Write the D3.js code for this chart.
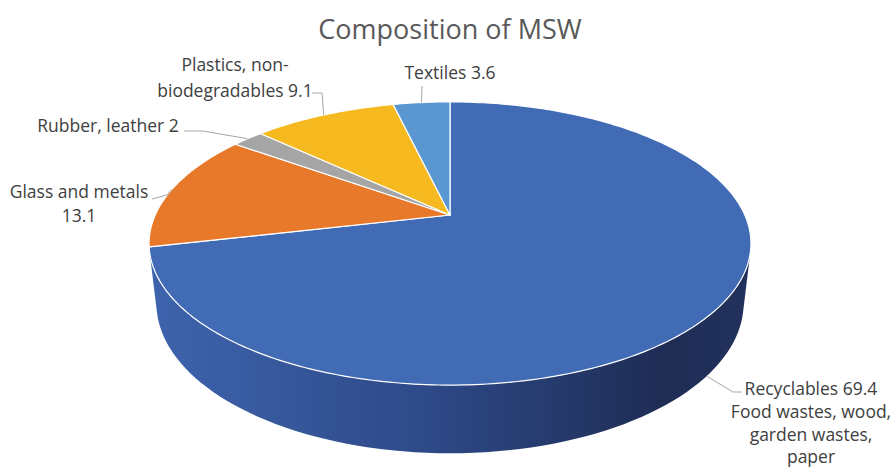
<!DOCTYPE html>
<html>
<head>
<meta charset="utf-8">
<script src="https://cdn.jsdelivr.net/npm/d3@7"></script>
<style>
  body { margin: 0; background: #fff; }
  text { font-family: "Open Sans", "Noto Sans", sans-serif; }
</style>
</head>
<body>
<div id="wrapper"></div>
<script>
// data
const categories = ["Recyclables", "Glass and metals", "Rubber, leather", "Plastics, non-biodegradables", "Textiles"]
const values = [69.4, 13.1, 2, 9.1, 3.6]
const labelLines = [
    ["Recyclables 69.4", "Food wastes, wood,", "garden wastes,", "paper"],
    ["Glass and metals", "13.1"],
    ["Rubber, leather 2"],
    ["Plastics, non-", "biodegradables 9.1"],
    ["Textiles 3.6"]
]
const colors = ["#416bb5", "#e8792b", "#a5a5a5", "#f6b920", "#5a96cf"]

const width = 893
const height = 469

// perspective camera for the disk
const cam = { cx: 450, cy: 215, f: 1300, D: 4.41, tilt: 0.479, h: 0.23 }
const sA = Math.sin(cam.tilt), cA = Math.cos(cam.tilt)

// angle a (d3.pie convention, clockwise from 12 o'clock), radius r, y height
const project = (a, r, y) => {
    const x = r * Math.sin(a)
    const z = r * Math.cos(a)
    const Y = y * cA + z * sA
    const Z = cam.D + z * cA - y * sA
    return [cam.cx + cam.f * x / Z, cam.cy - cam.f * Y / Z]
}

const svg = d3.select('#wrapper')
    .append('svg')
    .attr('width', width)
    .attr('height', height)

const defs = svg.append('defs')
const grad = defs.append('linearGradient')
    .attr('id', 'sideGrad')
    .attr('gradientUnits', 'userSpaceOnUse')
    .attr('x1', 150).attr('x2', 752).attr('y1', 0).attr('y2', 0)
grad.append('stop').attr('offset', '0%').attr('stop-color', '#3e64ae')
grad.append('stop').attr('offset', '45%').attr('stop-color', '#2e4a89')
grad.append('stop').attr('offset', '85%').attr('stop-color', '#1f2d55')
grad.append('stop').attr('offset', '100%').attr('stop-color', '#22325c')

const pie = d3.pie().sort(null).value(d => d)
const arcs = pie(values)

const line = d3.line()

// side wall: outer surface faces camera where cos(a) < -1/(D*cos(tilt))
const limit = Math.acos(-1 / (cam.D * cA))
const visLo = limit, visHi = 2 * Math.PI - limit

const sides = svg.append('g')
arcs.forEach((d, i) => {
    const a0 = Math.max(d.startAngle, visLo)
    const a1 = Math.min(d.endAngle, visHi)
    if (a1 <= a0) return
    const n = 80
    const angles = d3.range(n + 1).map(k => a0 + (a1 - a0) * k / n)
    const top = angles.map(a => project(a, 1, 0))
    const bottom = angles.map(a => project(a, 1, -cam.h)).reverse()
    sides.append('path')
        .attr('d', line(top.concat(bottom)) + 'Z')
        .attr('fill', i === 0 ? 'url(#sideGrad)' : d3.color(colors[i]).darker(1))
})

// top faces
const tops = svg.append('g')
arcs.forEach((d, i) => {
    const n = Math.max(8, Math.ceil((d.endAngle - d.startAngle) * 60))
    const pts = [project(0, 0, 0)]
    for (let k = 0; k <= n; k++) {
        pts.push(project(d.startAngle + (d.endAngle - d.startAngle) * k / n, 1, 0))
    }
    tops.append('path')
        .attr('d', line(pts) + 'Z')
        .attr('fill', colors[i])
        .attr('stroke', '#ffffff')
        .attr('stroke-width', 1.2)
        .attr('stroke-linejoin', 'round')
})

// title
svg.append('text')
    .attr('x', 450)
    .attr('y', 39)
    .attr('text-anchor', 'middle')
    .attr('font-size', 27)
    .attr('fill', '#595959')
    .text('Composition of MSW')

// label layout: text anchor point and leader path bends
const labelLayout = [
    { x: 811, y: 395, lh: 22.8, bend: [[733, 392], [742, 392]], rimY: -cam.h },
    { x: 79, y: 198, lh: 23.6, bend: [[167, 195], [152, 199]], rimY: 0 },
    { x: 108, y: 132, lh: 23.6, bend: [[203, 131], [184, 131]], rimY: 0 },
    { x: 235, y: 71, lh: 25.5, bend: [[322, 93], [312, 93]], rimY: 0 },
    { x: 450, y: 79, lh: 23.6, bend: [[422, 86]], rimY: 0 }
]

const labels = svg.append('g')
arcs.forEach((d, i) => {
    const L = labelLayout[i]
    const mid = (d.startAngle + d.endAngle) / 2
    const p0 = project(mid, 1, L.rimY)
    labels.append('path')
        .attr('d', line([p0].concat(L.bend)))
        .attr('fill', 'none')
        .attr('stroke', '#a6a6a6')
        .attr('stroke-width', 1)

    const t = labels.append('text')
        .attr('text-anchor', 'middle')
        .attr('font-size', 17.5)
        .attr('fill', '#404040')
    labelLines[i].forEach((s, k) => {
        t.append('tspan')
            .attr('x', L.x)
            .attr('y', L.y + k * L.lh)
            .text(s)
    })
})
</script>
</body>
</html>
